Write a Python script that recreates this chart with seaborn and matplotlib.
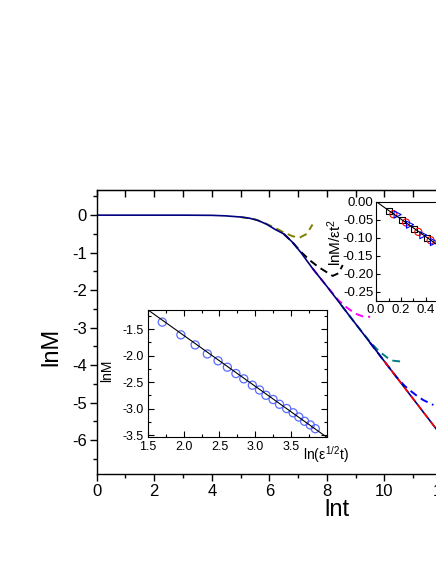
import matplotlib
matplotlib.use("Agg")
import matplotlib.pyplot as plt
from matplotlib.ticker import MultipleLocator
import seaborn as sns

# main panel: lnM against lnt
lnt_main = [0, 1, 2, 3, 4, 4.5, 5.0, 5.3, 5.6, 5.9, 6.2, 6.5, 6.8, 7.1, 7.5,
            8.0, 8.5, 9.0, 9.5, 10.0, 10.5, 11.0, 11.5, 12.0]
lnM_main = [0, 0, 0, 0, -0.005, -0.02, -0.05, -0.08, -0.14, -0.24, -0.38, -0.5,
            -0.72, -1.0, -1.42, -1.9, -2.4, -2.9, -3.4, -3.9, -4.4, -4.9, -5.4, -5.9]

# dashed curves that leave the master curve one after another
lnt_olive = [5.0, 5.5, 5.8, 6.2, 6.5, 6.8, 7.05, 7.3, 7.5]
lnM_olive = [-0.05, -0.11, -0.2, -0.34, -0.46, -0.56, -0.6, -0.5, -0.25]
lnt_black = [6.5, 6.8, 7.1, 7.4, 7.7, 7.95, 8.2, 8.4, 8.55]
lnM_black = [-0.5, -0.72, -0.98, -1.2, -1.38, -1.5, -1.62, -1.55, -1.33]
lnt_magenta = [7.5, 8.0, 8.4, 8.7, 9.0, 9.25, 9.5]
lnM_magenta = [-1.42, -1.9, -2.27, -2.47, -2.63, -2.7, -2.71]
lnt_teal = [8.5, 9.0, 9.5, 9.8, 10.1, 10.3, 10.55]
lnM_teal = [-2.4, -2.9, -3.38, -3.62, -3.8, -3.88, -3.9]
lnt_blue = [9.5, 10.0, 10.4, 10.7, 10.9, 11.1, 11.35, 11.7]
lnM_blue = [-3.4, -3.9, -4.3, -4.55, -4.68, -4.8, -4.93, -5.06]
lnt_red = [10.0, 10.5, 11.0, 11.5, 12.0]
lnM_red = [-3.9, -4.4, -4.9, -5.4, -5.9]

# lower inset: lnM against ln(eps^1/2 t)
x_in1 = [1.70, 1.96, 2.16, 2.33, 2.48, 2.61, 2.73, 2.84, 2.96, 3.06, 3.15,
         3.25, 3.34, 3.44, 3.53, 3.61, 3.69, 3.77, 3.84]
y_in1 = [-1.37, -1.61, -1.80, -1.97, -2.10, -2.22, -2.34, -2.44, -2.56, -2.65,
         -2.75, -2.83, -2.92, -3.00, -3.08, -3.16, -3.24, -3.31, -3.38]
x_fit1 = [1.5, 4.0]
y_fit1 = [-1.14, -3.54]

# upper inset: lnM/eps t^2
x_sq = [0.107, 0.205, 0.307, 0.405]
y_sq = [-0.026, -0.052, -0.076, -0.101]
x_ci = [0.139, 0.240, 0.339, 0.437]
y_ci = [-0.035, -0.058, -0.084, -0.107]
x_tr = [0.173, 0.272, 0.379, 0.464]
y_tr = [-0.036, -0.064, -0.093, -0.112]
x_fit2 = [0.0, 0.5]
y_fit2 = [0.0, -0.122]


def make_plot():
    sns.set_style("ticks")
    plt.rcParams['font.family'] = ['Liberation Sans', 'DejaVu Sans']
    plt.rcParams['mathtext.fontset'] = 'custom'
    plt.rcParams['mathtext.rm'] = 'Liberation Sans'
    plt.rcParams['mathtext.it'] = 'Liberation Sans'
    plt.rcParams['axes.unicode_minus'] = False
    plt.rcParams['text.color'] = 'black'
    plt.rcParams['xtick.color'] = 'black'
    plt.rcParams['ytick.color'] = 'black'
    plt.rcParams['xtick.labelcolor'] = 'black'
    plt.rcParams['ytick.labelcolor'] = 'black'
    plt.rcParams['axes.edgecolor'] = 'black'

    fig = plt.figure(figsize=(4.36, 5.64), dpi=100)

    # ---- main axes (runs off the right edge, like the original crop)
    ax = fig.add_axes([0.2218, 0.1596, 0.792, 0.5035])
    dash = (0, (4, 2.5))
    for xs, ys, c in [(lnt_olive, lnM_olive, '#808000'),
                      (lnt_black, lnM_black, 'black'),
                      (lnt_magenta, lnM_magenta, '#ff00ff'),
                      (lnt_teal, lnM_teal, '#008080'),
                      (lnt_blue, lnM_blue, '#0000ff')]:
        sns.lineplot(x=xs, y=ys, ax=ax, color=c, linestyle=dash, lw=1.4,
                     sort=False, estimator=None)
    sns.lineplot(x=lnt_main, y=lnM_main, ax=ax, color='#000080', lw=1.2,
                 sort=False, estimator=None)
    sns.lineplot(x=lnt_red, y=lnM_red, ax=ax, color='red', linestyle=dash,
                 lw=1.2, sort=False, estimator=None)

    ax.set_xlim(0, 12)
    ax.set_ylim(-6.9, 0.67)
    ax.xaxis.set_major_locator(MultipleLocator(2))
    ax.xaxis.set_minor_locator(MultipleLocator(1))
    ax.yaxis.set_major_locator(MultipleLocator(1))
    ax.yaxis.set_minor_locator(MultipleLocator(0.5))
    ax.tick_params(which='both', direction='out', labelsize=12, width=1,
                   pad=2)
    ax.tick_params(which='major', length=5)
    ax.tick_params(which='minor', length=3)
    for s in ax.spines.values():
        s.set_linewidth(1.0)
    ax.spines['right'].set_visible(False)
    top = ax.secondary_xaxis('top')
    top.xaxis.set_major_locator(MultipleLocator(1))
    top.tick_params(direction='in', length=5, labeltop=False, width=1)
    ax.set_xlabel('')
    ax.set_ylabel('')
    fig.text(51 / 436, 1 - 347 / 564, 'lnM', rotation=90, fontsize=17,
             ha='center', va='center')
    fig.text(337 / 436, 1 - 510 / 564, 'lnt', fontsize=17,
             ha='center', va='center')

    # ---- lower inset
    ax1 = fig.add_axes([0.3394, 0.2246, 0.41, 0.2257])
    ax1.set_facecolor('white')
    sns.lineplot(x=x_fit1, y=y_fit1, ax=ax1, color='black', lw=0.8,
                 sort=False, estimator=None)
    sns.scatterplot(x=x_in1, y=y_in1, ax=ax1, marker='o', s=34,
                    facecolors='none', edgecolor='#5a6cff', linewidth=0.9)
    ax1.set_xlim(1.5, 4.0)
    ax1.set_ylim(-3.543, -1.142)
    ax1.set_xticks([1.5, 2.0, 2.5, 3.0, 3.5])
    ax1.set_yticks([-1.5, -2.0, -2.5, -3.0, -3.5])
    ax1.xaxis.set_minor_locator(MultipleLocator(0.25))
    ax1.yaxis.set_minor_locator(MultipleLocator(0.25))
    ax1.tick_params(which='both', direction='in', top=True, right=True,
                    labelsize=9, width=0.8, pad=3)
    ax1.tick_params(which='major', length=4)
    ax1.tick_params(which='minor', length=2)
    for s in ax1.spines.values():
        s.set_linewidth(0.8)
    ax1.set_xlabel('')
    ax1.set_ylabel('')
    fig.text(107 / 436, 1 - 371 / 564, 'lnM', rotation=90, fontsize=10,
             ha='center', va='center')
    fig.text(326 / 436, 1 - 455 / 564, r'ln($\epsilon^{1/2}$t)', fontsize=10,
             ha='center', va='center')

    # ---- upper inset
    ax2 = fig.add_axes([0.8624, 0.4663, 0.1433, 0.1764])
    ax2.set_facecolor('white')
    sns.lineplot(x=x_fit2, y=y_fit2, ax=ax2, color='black', lw=0.8,
                 sort=False, estimator=None)
    sns.scatterplot(x=x_sq, y=y_sq, ax=ax2, marker='s', s=20,
                    facecolors='none', edgecolor='black', linewidth=0.8)
    sns.scatterplot(x=x_ci, y=y_ci, ax=ax2, marker='o', s=26,
                    facecolors='none', edgecolor='red', linewidth=0.8)
    sns.scatterplot(x=x_tr, y=y_tr, ax=ax2, marker='>', s=26,
                    facecolors='none', edgecolor='blue', linewidth=0.8)
    ax2.set_xlim(0, 0.5)
    ax2.set_ylim(-0.275, 0.0)
    ax2.set_xticks([0.0, 0.2, 0.4])
    ax2.set_yticks([0.0, -0.05, -0.10, -0.15, -0.20, -0.25])
    ax2.set_yticklabels(['0.00', '-0.05', '-0.10', '-0.15', '-0.20', '-0.25'])
    ax2.xaxis.set_minor_locator(MultipleLocator(0.1))
    ax2.tick_params(which='both', direction='in', labelsize=9.5, width=0.8,
                    pad=2)
    ax2.tick_params(which='major', length=3)
    ax2.tick_params(which='minor', length=2)
    for s in ax2.spines.values():
        s.set_linewidth(0.8)
    ax2.set_xlabel('')
    ax2.set_ylabel('')
    fig.text(335 / 436, 1 - 242 / 564, r'lnM/$\epsilon$t$^2$', rotation=90,
             fontsize=11, ha='center', va='center')

    fig.savefig('out.png', dpi=100)


if __name__ == '__main__':
    make_plot()
